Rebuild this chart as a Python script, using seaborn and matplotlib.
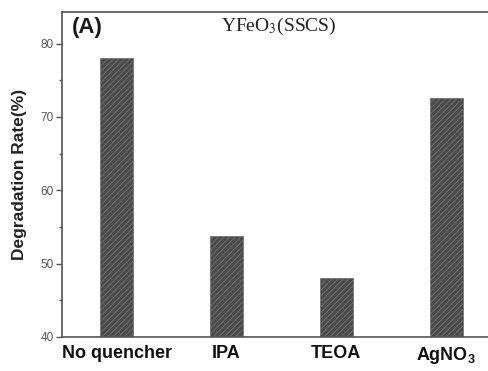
import matplotlib
matplotlib.use("Agg")
import matplotlib.pyplot as plt
import seaborn as sns
import pandas as pd
from matplotlib.ticker import MultipleLocator

categories = ["No quencher", "IPA", "TEOA", "AgNO3"]
tick_labels = ["No quencher", "IPA", "TEOA", r"AgNO$_\mathbf{3}$"]
rates = [78.0, 53.7, 48.1, 72.6]

df = pd.DataFrame({"quencher": categories, "rate": rates})

sns.set_style("white")
plt.rcParams["font.family"] = ["Liberation Sans", "DejaVu Sans"]
plt.rcParams["mathtext.fontset"] = "custom"
plt.rcParams["mathtext.rm"] = "Liberation Sans:bold"
plt.rcParams["mathtext.bf"] = "Liberation Sans:bold"
plt.rcParams["hatch.linewidth"] = 0.6

W, H = 489, 371
fig = plt.figure(figsize=(W / 100, H / 100), dpi=100)
ax = fig.add_axes([62 / W, 34 / H, (W - 62) / W, (337 - 12) / H])

sns.barplot(data=df, x="quencher", y="rate", ax=ax, color="#4a4a4a",
            width=0.30, saturation=1, edgecolor="#757575", linewidth=0.6,
            hatch="//////")

ax.set_ylim(40, 84.3)
ax.set_xlim(-0.498, 3.39)
ax.yaxis.set_major_locator(MultipleLocator(10))
ax.yaxis.set_minor_locator(MultipleLocator(5))
ax.tick_params(axis="y", which="major", direction="out", length=4, width=1,
               color="#555555", labelsize=8.5, labelcolor="#555555", left=True, pad=2)
ax.tick_params(axis="y", which="minor", direction="out", length=2.5, width=1,
               color="#555555", left=True)
ax.tick_params(axis="x", length=0, pad=6)
ax.set_xticks(range(len(tick_labels)))
ax.set_xticklabels(tick_labels, fontsize=13, fontweight="bold", color="#111111")

ax.set_xlabel("")
ax.set_ylabel("Degradation Rate(%)", fontsize=12.5, fontweight="bold", color="#222222")
ax.yaxis.set_label_coords(-0.083, 0.5)

for side in ["left", "top", "bottom"]:
    ax.spines[side].set_visible(True)
    ax.spines[side].set_color("#555555")
    ax.spines[side].set_linewidth(1.2)
ax.spines["right"].set_visible(False)

fig.text(72 / W, 1 - 27 / H, "(A)", fontsize=16, fontweight="bold",
         ha="left", va="center", color="#1a1a1a")
t = fig.text(279 / W, 1 - 26 / H, "YFeO$_3$(SSCS)", fontsize=14,
             family="Liberation Serif", ha="center", va="center", color="#222222")
t.set_math_fontfamily("stix")

fig.savefig("out.png", dpi=100)
